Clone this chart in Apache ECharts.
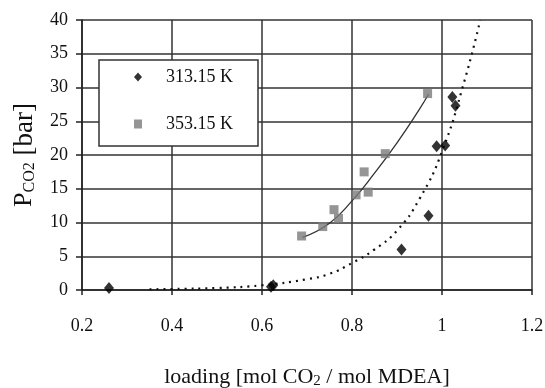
<!DOCTYPE html>
<html>
<head>
<meta charset="utf-8">
<script src="https://cdn.jsdelivr.net/npm/echarts@6/dist/echarts.min.js"></script>
<style>
    html, body { margin: 0; padding: 0; background: #fff; }
    #main { width: 545px; height: 388px; }
</style>
</head>
<body>
<div id="main"></div>
<script type="text/javascript">
    // measured points, 313.15 K
    var load313 = [0.26, 0.62, 0.625, 0.91, 0.97, 0.988, 1.007, 1.023, 1.03];
    var p313 = [0.3, 0.5, 0.7, 6.0, 11.0, 21.3, 21.4, 28.6, 27.3];
    // measured points, 353.15 K
    var load353 = [0.688, 0.735, 0.76, 0.77, 0.809, 0.827, 0.836, 0.874, 0.968];
    var p353 = [8.0, 9.4, 11.9, 10.6, 14.1, 17.5, 14.5, 20.2, 29.1];
    // trend curves
    var fit313X = [0.35, 0.4, 0.5, 0.6, 0.7, 0.75, 0.8, 0.85, 0.9, 0.95, 1.0, 1.05, 1.085];
    var fit313Y = [0.1, 0.15, 0.3, 0.7, 1.6, 2.4, 4.0, 6.0, 8.8, 13.5, 20.5, 31, 40];
    var fit353X = [0.69, 0.75, 0.8, 0.85, 0.9, 0.95, 0.97];
    var fit353Y = [7.8, 9.9, 13.2, 17.3, 21.8, 26.8, 29.0];
    var xTicks = { min: 0.2, max: 1.2, step: 0.2 };
    var yTicks = { min: 0, max: 40, step: 5 };

    function pairs(xs, ys) {
        return xs.map(function (x, i) { return [x, ys[i]]; });
    }

    var serif = 'Liberation Serif, Times New Roman, serif';
    var myChart = echarts.init(document.getElementById('main'));

    option = {
        backgroundColor: '#fff',
        animation: false,
        grid: { left: 82, right: 13, top: 20, bottom: 98, containLabel: false, outerBoundsMode: 'none' },
        legend: {
            data: ['313.15 K', '353.15 K'],
            orient: 'vertical',
            left: 99,
            top: 60,
            padding: [7, 25, 12, 35],
            itemGap: 27,
            itemWidth: 8,
            itemHeight: 9,
            backgroundColor: '#fff',
            borderColor: '#333',
            borderWidth: 1.5,
            textStyle: { fontFamily: serif, fontSize: 18, color: '#111', lineHeight: 20, padding: [0, 0, 0, 19] }
        },
        xAxis: {
            type: 'value',
            min: xTicks.min,
            max: xTicks.max,
            interval: xTicks.step,
            axisLine: { onZero: false, lineStyle: { color: '#222', width: 1.5 } },
            axisTick: { show: true, length: 5, lineStyle: { color: '#222', width: 1.5 } },
            axisLabel: { fontFamily: serif, fontSize: 18, color: '#111', margin: 27 },
            splitLine: { show: true, lineStyle: { color: '#333', width: 1.5 } },
            name: '{a|loading [mol CO}{s|2}{a| / mol MDEA]}',
            nameLocation: 'middle',
            nameGap: 76,
            nameTextStyle: {
                rich: {
                    a: { fontFamily: serif, fontSize: 22, color: '#111' },
                    s: { fontFamily: serif, fontSize: 15, color: '#111', verticalAlign: 'bottom', padding: [8, 0, 0, 0] }
                }
            }
        },
        yAxis: {
            type: 'value',
            min: yTicks.min,
            max: yTicks.max,
            interval: yTicks.step,
            axisLine: { show: true, lineStyle: { color: '#222', width: 1.5 } },
            axisTick: { show: true, length: 6, lineStyle: { color: '#222', width: 1.5 } },
            axisLabel: { fontFamily: serif, fontSize: 18, color: '#111', margin: 14 },
            splitLine: { show: true, lineStyle: { color: '#333', width: 1.5 } },
            name: '{p|P}{s|CO2}{b| [bar]}',
            nameLocation: 'middle',
            nameRotate: 90,
            nameGap: 44,
            nameTextStyle: {
                rich: {
                    p: { fontFamily: serif, fontSize: 26, color: '#111' },
                    s: { fontFamily: serif, fontSize: 16, color: '#111', verticalAlign: 'bottom', padding: [6, 0, 0, 0] },
                    b: { fontFamily: serif, fontSize: 27, color: '#111' }
                }
            }
        },
        series: [
            {
                name: 'fit 313',
                type: 'line',
                smooth: true,
                showSymbol: false,
                data: pairs(fit313X, fit313Y),
                lineStyle: { color: '#111', width: 2.2, type: [2, 5] },
                z: 3
            },
            {
                name: 'fit 353',
                type: 'line',
                smooth: true,
                showSymbol: false,
                data: pairs(fit353X, fit353Y),
                lineStyle: { color: '#333', width: 1.3 },
                z: 3
            },
            {
                name: '313.15 K',
                type: 'scatter',
                symbol: 'diamond',
                symbolSize: [10, 12],
                data: pairs(load313, p313),
                itemStyle: { color: '#000' },
                z: 4
            },
            {
                name: '353.15 K',
                type: 'scatter',
                symbol: 'rect',
                symbolSize: 9,
                data: pairs(load353, p353),
                itemStyle: { color: '#7b7b7b' },
                z: 4
            }
        ]
    };

    myChart.setOption(option);
</script>
</body>
</html>
